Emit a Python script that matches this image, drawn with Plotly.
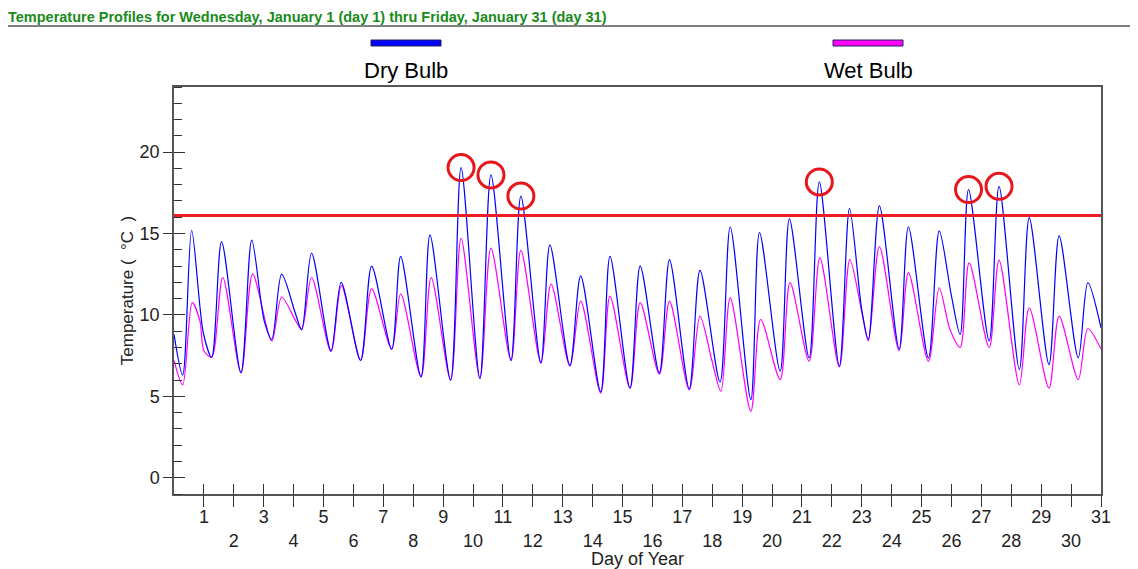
import plotly.graph_objects as go

# ---------------- data ----------------
dry_days = [0.0, 0.29, 0.59, 0.98, 1.26, 1.59, 2.24, 2.6, 3.02, 3.27, 3.6, 4.05, 4.27, 4.6,
            5.25, 5.59, 6.24, 6.61, 7.28, 7.58, 8.26, 8.56, 9.25, 9.6, 10.23, 10.6, 11.27,
            11.6, 12.27, 12.57, 13.24, 13.6, 14.27, 14.58, 15.25, 15.59, 16.23, 16.57,
            17.23, 17.59, 18.26, 18.6, 19.29, 19.58, 20.27, 20.58, 21.24, 21.58, 22.25,
            22.59, 23.0, 23.22, 23.59, 24.25, 24.56, 25.23, 25.59, 26.0, 26.29, 26.57,
            27.26, 27.59, 28.27, 28.6, 29.26, 29.6, 30.24, 30.56, 31.0]
dry_temps = [8.8, 6.3, 15.2, 8.9, 7.4, 14.5, 6.45, 14.6, 9.6, 8.5, 12.5, 10.15, 9.1, 13.8,
             7.8, 12.0, 7.2, 13.0, 7.9, 13.6, 6.2, 14.9, 6.0, 19.05, 6.1, 18.6, 7.2,
             17.3, 7.05, 14.3, 6.9, 12.4, 5.27, 13.6, 5.5, 13.0, 6.44, 13.4,
             5.46, 12.74, 5.87, 15.4, 4.8, 15.06, 6.55, 15.9, 7.36, 18.17, 6.85,
             16.55, 10.3, 8.5, 16.7, 7.9, 15.4, 7.36, 15.16, 11.16, 8.8, 17.7,
             8.4, 17.9, 6.65, 15.98, 6.95, 14.85, 7.36, 11.98, 9.2]

wet_days = [0.0, 0.29, 0.61, 0.87, 1.0, 1.26, 1.63, 2.24, 2.63, 3.27, 3.6, 4.05, 4.27, 4.6,
            5.25, 5.6, 6.24, 6.61, 7.28, 7.58, 8.26, 8.6, 9.25, 9.6, 10.23, 10.6, 11.27,
            11.6, 12.27, 12.61, 13.24, 13.6, 14.27, 14.58, 15.25, 15.59, 16.23, 16.57,
            17.23, 17.59, 17.98, 18.29, 18.6, 19.29, 19.62, 20.27, 20.6, 21.24, 21.6,
            22.25, 22.6, 23.02, 23.22, 23.59, 24.25, 24.56, 25.23, 25.59, 25.95, 26.29,
            26.59, 27.26, 27.59, 28.27, 28.6, 29.26, 29.6, 30.24, 30.56, 31.0]
wet_temps = [7.2, 5.7, 10.75, 9.6, 7.8, 7.4, 12.3, 6.45, 12.5, 8.4, 11.1, 9.7, 9.1, 12.3,
             7.75, 11.8, 7.2, 11.6, 7.9, 11.3, 6.2, 12.3, 6.0, 14.7, 6.1, 14.1, 7.2,
             13.97, 7.05, 11.9, 6.85, 10.85, 5.2, 11.16, 5.5, 10.75, 6.35, 10.85,
             5.4, 9.93, 7.26, 5.3, 11.06, 4.08, 9.72, 6.03, 11.98, 7.15, 13.5,
             6.8, 13.4, 10.0, 8.4, 14.2, 7.8, 12.6, 7.15, 11.67, 9.1, 8.0,
             13.2, 8.0, 13.37, 5.7, 10.44, 5.5, 9.93, 6.03, 9.15, 7.9]

threshold = 16.1
exceed_days = [9.6, 10.6, 11.6, 21.58, 26.57, 27.59]
exceed_temps = [19.05, 18.6, 17.3, 18.17, 17.7, 17.9]

day_ticks = list(range(1, 32))
day_labels = [str(d) if d % 2 == 1 else "<br>" + str(d) for d in day_ticks]

title_text = "Temperature Profiles for Wednesday, January 1 (day 1) thru Friday, January 31 (day 31)"
series_names = ["Dry Bulb", "Wet Bulb"]
NB = "\u00a0"
y_title = "Temperature" + NB + "(" + NB * 2 + "°C" + NB * 2 + ")"

# ---------------- layout geometry (screen pixels; page body has an 8px margin) ----------------
OFF = 8
SW, SH = 1138, 569
W, H = SW - OFF, SH - OFF
L, R, T, B = 174, 1101, 87, 494
pw, ph = R - L, B - T


def px(x):
    return (x - L) / pw


def py(y):
    return 1 + (T - y) / ph


FONT = "Liberation Sans, Arial, sans-serif"
TXT = "#222222"
XR = [0, 31]
YR = [-1, 24]

fig = go.Figure()
fig.add_trace(go.Scatter(x=wet_days, y=wet_temps, mode="lines", name=series_names[1],
                         line=dict(color="#ff00ff", width=1.2, shape="spline", smoothing=0.85),
                         showlegend=False))
fig.add_trace(go.Scatter(x=dry_days, y=dry_temps, mode="lines", name=series_names[0],
                         line=dict(color="#0000ff", width=1.2, shape="spline", smoothing=0.85),
                         showlegend=False))
fig.add_trace(go.Scatter(x=XR, y=[threshold, threshold], mode="lines",
                         line=dict(color="#ee1c24", width=3), showlegend=False,
                         xaxis="x2", yaxis="y2"))
fig.add_trace(go.Scatter(x=exceed_days, y=exceed_temps, mode="markers",
                         marker=dict(symbol="circle-open", size=26, color="#e8161b",
                                     line=dict(width=3, color="#e8161b")),
                         showlegend=False, xaxis="x2", yaxis="y2"))

axis_common = dict(showgrid=False, zeroline=False, automargin=False)

fig.update_layout(
    width=W, height=H,
    margin=dict(l=L - OFF, r=SW - R, t=T - OFF, b=SH - B),
    paper_bgcolor="white", plot_bgcolor="white",
    font=dict(family=FONT, color=TXT, size=18),
    title=dict(text="<b>" + title_text + "</b>", xref="container", yref="container",
               x=(8 - OFF) / W, xanchor="left", y=1 - (17 - OFF) / H, yanchor="middle",
               font=dict(family=FONT, size=14.5, color="#1a8a1a")),
    xaxis=dict(range=XR, tickmode="array", tickvals=day_ticks, ticktext=day_labels,
               ticks="inside", ticklen=10, tickwidth=1, tickcolor="#333",
               ticklabelstandoff=6,
               showline=True, mirror=True, linecolor="#555", linewidth=1.5,
               tickfont=dict(size=18, color=TXT),
               title=dict(text="Day of Year", font=dict(size=18, color=TXT), standoff=2),
               **axis_common),
    yaxis=dict(range=YR, tickmode="linear", tick0=0, dtick=5,
               ticks="outside", ticklen=9, tickwidth=1, tickcolor="#333",
               minor=dict(ticks="inside", ticklen=8, dtick=1, tick0=0, tickcolor="#333",
                          tickwidth=1, showgrid=False),
               showline=True, mirror=True, linecolor="#555", linewidth=1.5,
               tickfont=dict(size=18, color=TXT),
               title=dict(text=y_title, font=dict(size=17, color=TXT), standoff=2),
               **axis_common),
    xaxis2=dict(range=XR, overlaying="x", anchor="y2", side="bottom", tickmode="array",
                tickvals=day_ticks, ticks="outside", ticklen=12, tickwidth=1, tickcolor="#333",
                showticklabels=False, showline=False, **axis_common),
    yaxis2=dict(range=YR, overlaying="y", anchor="x2", side="left", tickmode="linear",
                tick0=0, dtick=5, ticks="inside", ticklen=11, tickwidth=1, tickcolor="#333",
                showticklabels=False, showline=False, **axis_common),
)

# title underline
fig.add_shape(type="line", xref="paper", yref="paper", x0=px(5), x1=px(SW + 20), y0=py(26), y1=py(26),
              line=dict(color="black", width=1))

# custom legend (bars above names)
legend_items = [(series_names[0], "#0000ff", 371, 441), (series_names[1], "#ff00ff", 833, 903)]
for name, col, x0, x1 in legend_items:
    fig.add_shape(type="rect", xref="paper", yref="paper", x0=px(x0), x1=px(x1),
                  y0=py(46), y1=py(40), fillcolor=col, line=dict(color="#202060", width=1))
    fig.add_annotation(text=name, xref="paper", yref="paper", x=px((x0 + x1) / 2), y=py(71),
                       xanchor="center", yanchor="middle", showarrow=False,
                       font=dict(family=FONT, size=22, color="black"))

fig.write_html("out.html")
